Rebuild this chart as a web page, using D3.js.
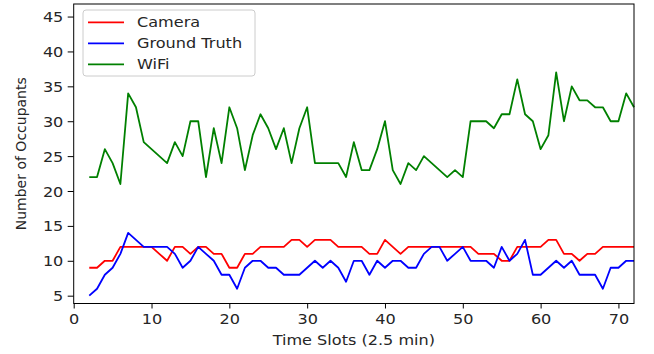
<!DOCTYPE html>
<html>
<head>
<meta charset="utf-8">
<script src="https://cdn.jsdelivr.net/npm/d3@7"></script>
<style>
  body { margin: 0; background: #fff; }
  svg text { font-family: "DejaVu Sans", sans-serif; fill: #262626; }
</style>
</head>
<body>
<div id="chart"></div>
<script>
// Time slots 2..72 (2.5 min each)
const firstSlot = 2;
const camera = [9, 9, 10, 10, 12, 12, 12, 12, 12, 11, 10, 12, 12, 11, 12, 12, 11, 11, 9, 9,
  11, 11, 12, 12, 12, 12, 13, 13, 12, 13, 13, 13, 12, 12, 12, 12, 11, 11, 13, 12,
  11, 12, 12, 12, 12, 12, 12, 12, 12, 12, 11, 11, 11, 10, 10, 12, 12, 12, 12, 13,
  13, 11, 11, 10, 11, 11, 12, 12, 12, 12, 12];
const groundTruth = [5, 6, 8, 9, 11, 14, 13, 12, 12, 12, 12, 11, 9, 10, 12, 11, 10, 8, 8, 6,
  9, 10, 10, 9, 9, 8, 8, 8, 9, 10, 9, 10, 9, 7, 10, 10, 8, 10, 9, 10,
  10, 9, 9, 11, 12, 12, 10, 11, 12, 10, 10, 10, 9, 12, 10, 11, 13, 8, 8, 9,
  10, 9, 10, 8, 8, 8, 6, 9, 9, 10, 10];
const wifi = [22, 22, 26, 24, 21, 34, 32, 27, 26, 25, 24, 27, 25, 30, 30, 22, 29, 24, 32, 29,
  23, 28, 31, 29, 26, 29, 24, 29, 32, 24, 24, 24, 24, 22, 27, 23, 23, 26, 30, 23,
  21, 24, 23, 25, 24, 23, 22, 23, 22, 30, 30, 30, 29, 31, 31, 36, 31, 30, 26, 28,
  37, 30, 35, 33, 33, 32, 32, 30, 30, 34, 32];
const xTicks = [0, 10, 20, 30, 40, 50, 60, 70];
const yTicks = [5, 10, 15, 20, 25, 30, 35, 40, 45];

const seriesList = [
  { name: 'Camera', values: camera, color: '#ff0000' },
  { name: 'Ground Truth', values: groundTruth, color: '#0000ff' },
  { name: 'WiFi', values: wifi, color: '#008000' }
];

const width = 654, height = 354;
const plot = { left: 73.7, right: 634, top: 4, bottom: 303.5 };
const stretch = 'scale(1.15,1)'; // the reference text is a bit wide

const svg = d3.select('#chart').append('svg')
  .attr('width', width)
  .attr('height', height);

const x = d3.scaleLinear().domain([0, 72]).range([plot.left, plot.right]);
const y = d3.scaleLinear().domain([3.88, 46.8]).range([plot.bottom, plot.top]);

// Lines
const line = d3.line()
  .x((d, i) => x(firstSlot + i))
  .y(d => y(d));

seriesList.forEach(s => {
  svg.append('path')
    .datum(s.values)
    .attr('d', line)
    .attr('fill', 'none')
    .attr('stroke', s.color)
    .attr('stroke-width', 1.8)
    .attr('stroke-linejoin', 'round');
});

// Axes
const xAxis = svg.append('g')
  .attr('transform', `translate(0,${plot.bottom})`)
  .call(d3.axisBottom(x).tickValues(xTicks).tickSize(5).tickPadding(6));
const yAxis = svg.append('g')
  .attr('transform', `translate(${plot.left},0)`)
  .call(d3.axisLeft(y).tickValues(yTicks).tickSize(6).tickPadding(4));

[xAxis, yAxis].forEach(ax => {
  ax.select('.domain').remove();
  ax.selectAll('.tick line').attr('stroke', '#000').attr('stroke-width', 1);
  ax.selectAll('.tick text')
    .style('font-size', '14px')
    .attr('fill', '#262626')
    .attr('transform', stretch);
});
yAxis.selectAll('.tick text').attr('x', -9).attr('dy', '0.36em');

// Frame
svg.append('rect')
  .attr('x', plot.left)
  .attr('y', plot.top)
  .attr('width', plot.right - plot.left)
  .attr('height', plot.bottom - plot.top)
  .attr('fill', 'none')
  .attr('stroke', '#000')
  .attr('stroke-width', 1);

// Axis labels
svg.append('text')
  .attr('transform', `translate(${(plot.left + plot.right) / 2},345) ${stretch}`)
  .attr('text-anchor', 'middle')
  .style('font-size', '14px')
  .text('Time Slots (2.5 min)');

svg.append('text')
  .attr('transform', `translate(26,${(plot.top + plot.bottom) / 2}) rotate(-90)`)
  .attr('text-anchor', 'middle')
  .style('font-size', '14px')
  .text('Number of Occupants');

// Legend
const legend = svg.append('g').attr('transform', 'translate(83,10)');
legend.append('rect')
  .attr('width', 172)
  .attr('height', 66)
  .attr('rx', 3)
  .attr('fill', 'rgba(255,255,255,0.8)')
  .attr('stroke', '#cccccc');

seriesList.forEach((s, i) => {
  const row = legend.append('g').attr('transform', `translate(0,${12.3 + i * 21})`);
  row.append('line')
    .attr('x1', 5).attr('x2', 41)
    .attr('stroke', s.color)
    .attr('stroke-width', 1.8);
  row.append('text')
    .attr('transform', `translate(54,5) ${stretch}`)
    .style('font-size', '14px')
    .text(s.name);
});
</script>
</body>
</html>
